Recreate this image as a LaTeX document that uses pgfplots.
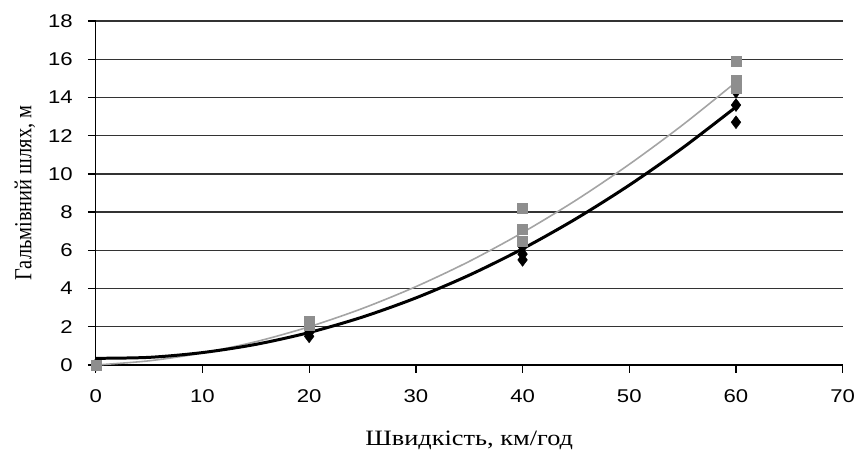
\documentclass[border=0pt]{standalone}
\usepackage{fontspec}
\setmainfont{Liberation Serif}
\newfontfamily\ticksans{Liberation Sans}
\usepackage{pgfplots}
\pgfplotsset{compat=1.18}

\definecolor{ptgray}{HTML}{8E8E8E}
\definecolor{linegray}{HTML}{A4A4A4}

\begin{document}
\begin{tikzpicture}
\begin{axis}[
    width=749pt, height=345pt, scale only axis,
    xmin=0, xmax=70, ymin=0, ymax=18,
    xtick={0,10,...,70}, ytick={0,2,...,18},
    axis lines*=left,
    axis line style={black, line width=1.5pt},
    tick align=outside, major tick length=8pt,
    tick style={black, line width=1.3pt},
    ymajorgrids, grid style={black!80, line width=1.3pt},
    ticklabel style={font=\ticksans\fontsize{18.5}{20}\selectfont, xscale=1.2},
    yticklabel style={xshift=-9pt},
    xticklabel style={yshift=-13pt},
    /pgf/number format/assume math mode=true,
    xlabel={Швидкість, км/год},
    ylabel={Гальмівний шлях, м},
    xlabel style={font=\fontsize{22}{26}\selectfont,
        at={(axis description cs:0.5,-0.234)}, anchor=base, xscale=1.2},
    ylabel style={font=\fontsize{20.5}{24}\selectfont,
        at={(axis description cs:-0.0948,0.5)}, anchor=center, yscale=1.2},
    clip=false,
]
% measured points, first series
\addplot[only marks, mark=diamond*, mark size=6.5pt, black] coordinates {
    (0,0) (20,1.5) (20,1.7) (40,5.5) (40,5.8) (40,6.2)
    (60,12.7) (60,13.6) (60,14.3)
};
% measured points, second series
\addplot[only marks, mark=square*, mark size=5pt, ptgray] coordinates {
    (0,0) (20,2.1) (20,2.3) (40,6.5) (40,7.1) (40,8.2)
    (60,14.5) (60,14.9) (60,15.9)
};
% trend lines
\addplot[linegray, line width=1.6pt, smooth] coordinates {
    (0,0) (5,0.22) (10,0.63) (15,1.22) (20,2.0) (25,2.96) (30,4.1)
    (35,5.42) (40,6.93) (45,8.62) (50,10.5) (55,12.56) (60,14.8)
};
\addplot[black, line width=3pt, smooth] coordinates {
    (0,0.35) (5,0.40) (10,0.65) (15,1.08) (20,1.70) (25,2.51) (30,3.51)
    (35,4.70) (40,6.08) (45,7.65) (50,9.41) (55,11.36) (60,13.5)
};
\coordinate (O) at (rel axis cs:0,0);
\end{axis}
\path (O) ++(-96pt,-84pt) rectangle ++(859pt,450pt);
\end{tikzpicture}
\end{document}
